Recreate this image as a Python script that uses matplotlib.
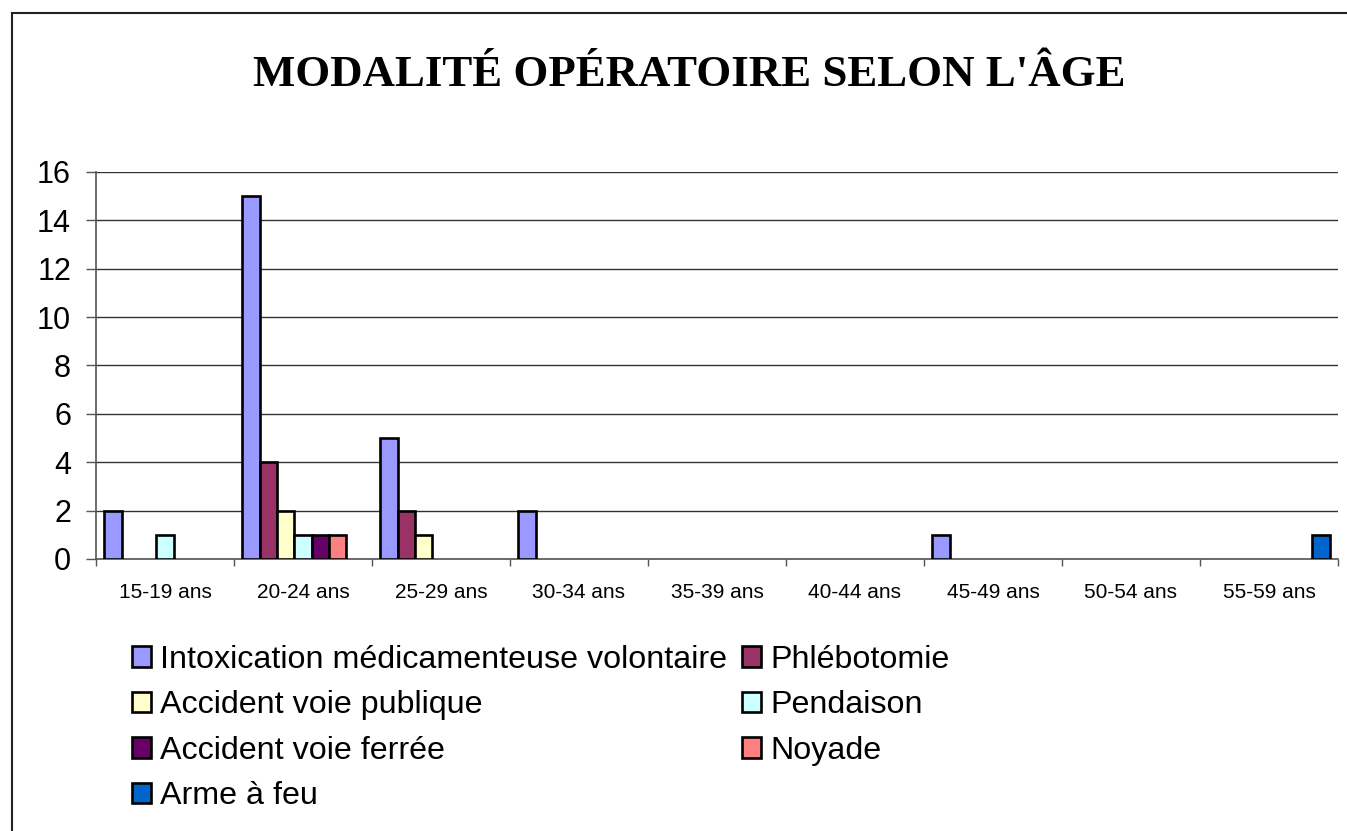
import numpy as np
import matplotlib.pyplot as plt
from matplotlib.patches import Rectangle, Patch

categories = ['15-19 ans', '20-24 ans', '25-29 ans', '30-34 ans', '35-39 ans',
              '40-44 ans', '45-49 ans', '50-54 ans', '55-59 ans']
series_names = ['Intoxication médicamenteuse volontaire', 'Phlébotomie',
                'Accident voie publique', 'Pendaison', 'Accident voie ferrée',
                'Noyade', 'Arme à feu']
intoxication = [2, 15, 5, 2, 0, 0, 1, 0, 0]
phlebotomie = [0, 4, 2, 0, 0, 0, 0, 0, 0]
avp = [0, 2, 1, 0, 0, 0, 0, 0, 0]
pendaison = [1, 1, 0, 0, 0, 0, 0, 0, 0]
avf = [0, 1, 0, 0, 0, 0, 0, 0, 0]
noyade = [0, 1, 0, 0, 0, 0, 0, 0, 0]
arme = [0, 0, 0, 0, 0, 0, 0, 0, 1]
colors = ['#9999FF', '#993366', '#FFFFCC', '#CCFFFF', '#660066', '#FF8080', '#0066CC']

series = [intoxication, phlebotomie, avp, pendaison, avf, noyade, arme]

fig = plt.figure(figsize=(13.47, 8.31), dpi=100)
fig.patches.append(Rectangle((12/1347, -0.1), 1.2, 0.1 + 1 - 13/831,
                             transform=fig.transFigure, fill=False,
                             edgecolor='#222222', linewidth=1.5))

ax = fig.add_axes([96/1347, 1 - 559/831, 1242/1347, 387/831])

x = np.arange(len(categories))
w = 0.126
for j, (vals, name, c) in enumerate(zip(series, series_names, colors)):
    v = np.array(vals, dtype=float)
    m = v > 0
    ax.bar(x[m] + (j - 3) * w, v[m], width=w, color=c, edgecolor='black',
           linewidth=1.9, zorder=3)

ax.set_xlim(-0.5, len(categories) - 0.5)
ax.set_ylim(0, 16)
ax.set_yticks(range(0, 17, 2))
ax.yaxis.grid(True, color='#333333', linewidth=1.0, zorder=0)
ax.set_axisbelow(True)

ax.set_xticks(x)
ax.set_xticklabels(categories, fontsize=15, family='Liberation Sans')
ax.set_xticks(np.arange(-0.5, len(categories)), minor=True)
ax.tick_params(axis='x', which='major', length=0, pad=17)
ax.tick_params(axis='x', which='minor', length=5, width=1, color='#555555')
ax.tick_params(axis='y', length=7, width=1, color='#555555', pad=11)
for lab in ax.get_yticklabels():
    lab.set_fontsize(22)
    lab.set_family('Liberation Sans')

for s in ['top', 'right']:
    ax.spines[s].set_visible(False)
ax.spines['left'].set_color('#555555')
ax.spines['bottom'].set_color('#555555')
ax.spines['left'].set_linewidth(1.2)
ax.spines['bottom'].set_linewidth(1.2)

fig.text(689/1347, 1 - 75/831, "MODALITÉ OPÉRATOIRE SELON L'ÂGE",
         ha='center', va='center', fontsize=32.3, fontweight='bold',
         family='Liberation Serif')

handles = [Patch(facecolor=c, edgecolor='black', linewidth=1.9, label=n)
           for n, c in zip(series_names, colors)]
order = [0, 2, 4, 6, 1, 3, 5]
fig.legend([handles[i] for i in order], [series_names[i] for i in order],
           ncol=2, loc='upper left', bbox_to_anchor=(132/1347, 1 - 645/831),
           frameon=False, prop={'family': 'Liberation Sans', 'size': 23.2},
           handlelength=0.6, handleheight=0.6, handletextpad=0.28,
           columnspacing=0.45, labelspacing=0.48, borderpad=0, borderaxespad=0)

fig.savefig('out.png', dpi=100)
